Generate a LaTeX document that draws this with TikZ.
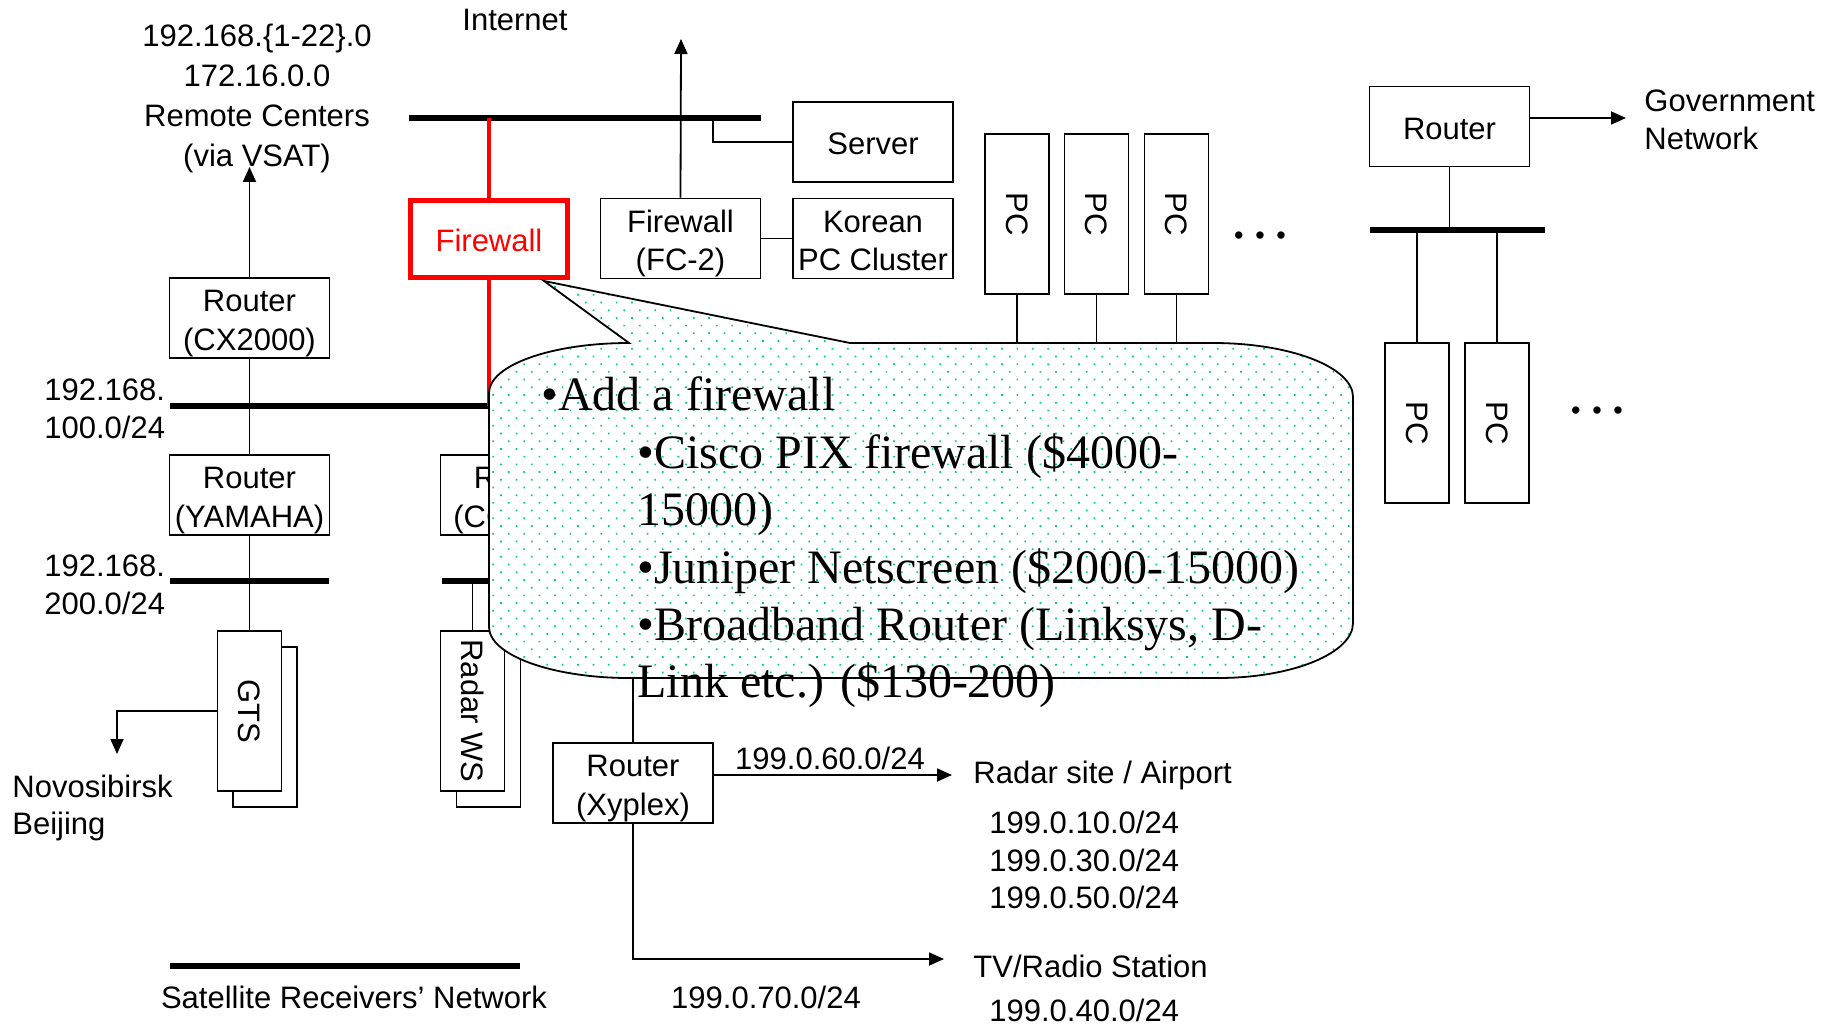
\documentclass[tikz,border=0pt]{standalone}
\usepackage{fontspec}
\setmainfont{Liberation Sans}
\newfontfamily\serifb{Liberation Serif}
\usetikzlibrary{arrows.meta,patterns.meta}
\definecolor{dotteal}{RGB}{0,204,153}
\newcommand\boxtxt[1]{\raisebox{-2.6pt}[\height][\depth]{\begin{tabular}{@{}c@{}}#1\end{tabular}}}
\begin{document}
\begin{tikzpicture}[x=0.5pt,y=-0.5pt,
  lbl/.style={font=\fontsize{15.5}{18.75}\selectfont, inner sep=0pt, align=center},
  lbll/.style={lbl, anchor=west, align=left},
  basebox/.style={draw, line width=0.8pt, fill=white, inner sep=0pt,
    font=\fontsize{15.5}{19.3}\selectfont},
  box/.style={basebox, minimum width=80pt, minimum height=40pt},
  vbox/.style={basebox, align=center, rotate=-90, minimum width=80pt, minimum height=32pt},
  wire/.style={line width=0.9pt},
  bus/.style={line width=2.8pt},
  redwire/.style={draw=red, line width=1.8pt},
  arr/.style={wire, -{Triangle[length=7.5pt,width=6.5pt]}},
  ctext/.style={font=\serifb\fontsize{24}{28.7}\selectfont, anchor=base west, inner sep=0pt},
  ddd/.style={font=\fontsize{13.5}{13.5}\selectfont, inner sep=0pt},
]
\useasboundingbox (0,0) rectangle (1834,1027);

% ---------- coordinates ----------
\coordinate (b1w) at (409,118);  \coordinate (b1e) at (761,118);
\coordinate (b2w) at (170,406);  \coordinate (b2e) at (700,406);
\coordinate (b3w) at (1370,230); \coordinate (b3e) at (1545,230);
\coordinate (b4w) at (170,581);  \coordinate (b4e) at (329,581);
\coordinate (b4rw) at (442,581); \coordinate (b4re) at (600,581);
\coordinate (b6w) at (170,966);  \coordinate (b6e) at (520,966);
\coordinate (inettip) at (681,39);
\coordinate (srvtap) at (713,118);
\coordinate (govtip) at (1626,118);
\coordinate (vsattip) at (249.5,167);
\coordinate (nvtip) at (117,754);
\coordinate (radtip) at (952,775);
\coordinate (tvtip) at (944,959);
\coordinate (xyup) at (633,640);
\coordinate (pcb) at (0,420);
\coordinate (radtap) at (472.5,581);

% ---------- texts ----------
\node[lbl, font=\fontsize{15.5}{20}\selectfont] (rc) at (257,98) {192.168.\{1-22\}.0\\172.16.0.0\\Remote Centers\\(via VSAT)};
\node[lbl] (inet) at (515,20) {Internet};
\node[lbll] (gov) at (1644,120) {Government\\Network};
\node[lbll] (n100) at (44,409) {192.168.\\100.0/24};
\node[lbll] (n200) at (44,585) {192.168.\\200.0/24};
\node[lbll] (nv) at (12,808) {Novosibirsk\\Beijing};
\node[lbl] (n60) at (830,758) {199.0.60.0/24};
\node[lbll] (rs) at (973,775) {Radar site / Airport};
\node[lbll] (n10) at (989,860) {199.0.10.0/24\\199.0.30.0/24\\199.0.50.0/24};
\node[lbl] (n70) at (766,997) {199.0.70.0/24};
\node[lbll] (tv) at (973,966) {TV/Radio Station};
\node[lbll] (n40) at (989,1010) {199.0.40.0/24};
\node[lbl] (sat) at (354,997) {Satellite Receivers’ Network};
\node[ddd] (dots1) at (1260,238.5) {•\hspace{5.8pt}•\hspace{5.8pt}•};
\node[ddd] (dots2) at (1597,413.5) {•\hspace{5.8pt}•\hspace{5.8pt}•};

% ---------- buses ----------
\draw[bus] (b1w) -- (b1e);
\draw[bus] (b2w) -- (b2e);
\draw[bus] (b3w) -- (b3e);
\draw[bus] (b4w) -- (b4e);
\draw[bus] (b4rw) -- (b4re);
\draw[bus] (b6w) -- (b6e);

% ---------- boxes ----------
\node[box, draw=red, text=red, line width=2.5pt, minimum width=78.5pt, minimum height=38.5pt] (fw) at (489,239) {\boxtxt{Firewall}};
\node[box] (fc2) at (680.5,238.5) {\boxtxt{Firewall\\(FC-2)}};
\node[box] (srv) at (873,142) {\boxtxt{Server}};
\node[box] (kor) at (873,238.5) {\boxtxt{Korean\\PC Cluster}};
\node[vbox] (pc1) at (1017,214) {PC};
\node[vbox] (pc2) at (1096.5,214) {PC};
\node[vbox] (pc3) at (1176.5,214) {PC};
\node[box] (rtg) at (1449.5,126.5) {\boxtxt{Router}};
\node[vbox] (pc4) at (1417,423) {PC};
\node[vbox] (pc5) at (1497,423) {PC};
\node[box] (cx) at (249.5,318) {\boxtxt{Router\\(CX2000)}};
\node[box] (ya) at (249.5,495) {\boxtxt{Router\\(YAMAHA)}};
\node[box] (cc) at (520.5,495) {\boxtxt{Router\\(CC2000)}};
\node[vbox] (gtsb) at (265,727) {};
\node[vbox] (gtsf) at (249.5,711) {GTS};
\node[vbox] (radb) at (488.5,727) {};
\node[vbox] (radf) at (472.5,711) {Radar WS};
\node[box] (xy) at (633,783) {\boxtxt{Router\\(Xyplex)}};

% ---------- connectors ----------
\draw[redwire] (b1w -| fw.north) -- (fw.north);
\draw[redwire] (fw.south) -- (fw.south |- b2w);
\draw[arr] (fc2.north) -- (inettip);
\draw[wire] (srvtap) |- (srv.west);
\draw[wire] (fc2.east) -- (kor.west);
\draw[wire] (pc1) -- (pc1 |- pcb);
\draw[wire] (pc2) -- (pc2 |- pcb);
\draw[wire] (pc3) -- (pc3 |- pcb);
\draw[arr] (rtg.east |- govtip) -- (govtip);
\draw[wire] (rtg.south) -- (rtg.south |- b3w);
\draw[wire] (b3w -| pc4) -- (pc4);
\draw[wire] (b3w -| pc5) -- (pc5);
\draw[arr] (cx) -- (vsattip);
\draw[wire] (cx) -- (cx |- b2w);
\draw[wire] (b2w -| ya) -- (ya);
\draw[wire] (ya) -- (gtsf);
\draw[arr] (gtsf.south) -| (nvtip);
\draw[wire] (radtap) -- (radf);
\draw[wire] (xy) -- (xyup);
\draw[arr] (xy.east |- radtip) -- (radtip);
\draw[arr] (xy.south) |- (tvtip);

% ---------- callout ----------
\draw[line width=0.9pt, preaction={fill=white},
      pattern={Dots[radius=0.6pt,distance=5.45pt,angle=45]}, pattern color=dotteal]
  (629,343) -- (544,281) -- (850,343) -- (1213,343)
  .. controls (1290,343) and (1353,367) .. (1353,397)
  -- (1353,623)
  .. controls (1353,653) and (1293,678) .. (1218,678)
  -- (629,678)
  .. controls (552,678) and (489,655) .. (489,627)
  -- (489,393)
  .. controls (489,365) and (552,343) .. (629,343) -- cycle;

\node[ctext] (c1) at (541,410) {•Add a firewall};
\node[ctext] (c2) at (637,468) {•Cisco PIX firewall (\$4000-};
\node[ctext] (c3) at (637,525) {15000)};
\node[ctext] (c4) at (637,583) {•Juniper Netscreen (\$2000-15000)};
\node[ctext] (c5) at (637,640) {•Broadband Router (Linksys, D-};
\node[ctext] (c6) at (637,697) {Link etc.) (\$130-200)};
\end{tikzpicture}
\end{document}
